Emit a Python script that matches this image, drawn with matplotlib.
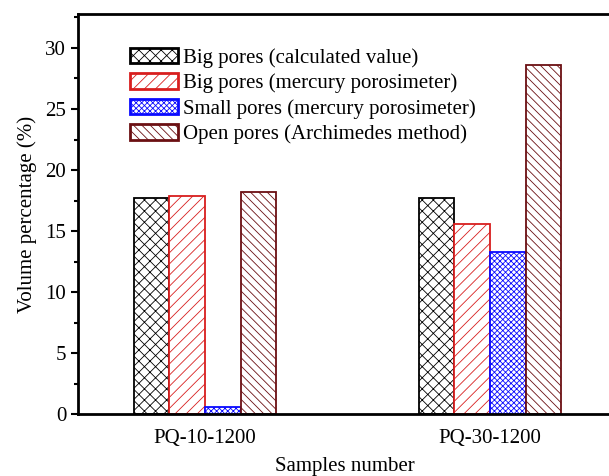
import matplotlib.pyplot as plt
import matplotlib.ticker as ticker
import numpy as np

samples = ["PQ-10-1200", "PQ-30-1200"]
series_names = ["Big pores (calculated value)",
                "Big pores (mercury porosimeter)",
                "Small pores (mercury porosimeter)",
                "Open pores (Archimedes method)"]
big_calc = [17.7, 17.7]
big_mercury = [17.9, 15.6]
small_mercury = [0.6, 13.3]
open_archimedes = [18.2, 28.6]

plt.rcParams['font.family'] = ['Liberation Serif', 'DejaVu Serif']
plt.rcParams['hatch.linewidth'] = 0.6

fig = plt.figure(figsize=(6.09, 4.76), dpi=100)
ax = fig.add_axes([0.128, 0.130, 0.877, 0.841])

x = np.arange(len(samples))
w = 0.125
values = [big_calc, big_mercury, small_mercury, open_archimedes]
edges = ["black", "#d81e1e", "#0a0aff", "#6b0f12"]
hatches = ["xxx", "///", "xxxxxx", "\\\\\\\\"]
for i, (vals, ec, h, name) in enumerate(zip(values, edges, hatches, series_names)):
    ax.bar(x + (i - 1.5) * w, vals, w, facecolor="white", edgecolor=ec,
           hatch=h, linewidth=1.3, label=name)

ax.set_xlim(-0.446, 1.428)
ax.set_ylim(0, 32.8)
ax.set_xticks(x)
ax.set_xticklabels(samples)
ax.yaxis.set_major_locator(ticker.MultipleLocator(5))
ax.yaxis.set_minor_locator(ticker.MultipleLocator(2.5))
ax.tick_params(axis="x", length=0, labelsize=15, pad=11)
ax.tick_params(axis="y", which="major", length=5, width=1.5, labelsize=15, direction="out")
ax.tick_params(axis="y", which="minor", length=3, width=1.5, direction="out")
for s in ax.spines.values():
    s.set_linewidth(2)

ax.set_xlabel("Samples number", fontsize=15, labelpad=6)
ax.set_ylabel("Volume percentage (%)", fontsize=15, labelpad=6)

leg = ax.legend(loc="upper left", bbox_to_anchor=(0.082, 0.936), frameon=False,
                fontsize=15, handlelength=2.3, handleheight=0.75,
                labelspacing=0.27, handletextpad=0.25, borderaxespad=0)
for p in leg.get_patches():
    p.set_linewidth(2)

fig.savefig("out.png", dpi=100)
